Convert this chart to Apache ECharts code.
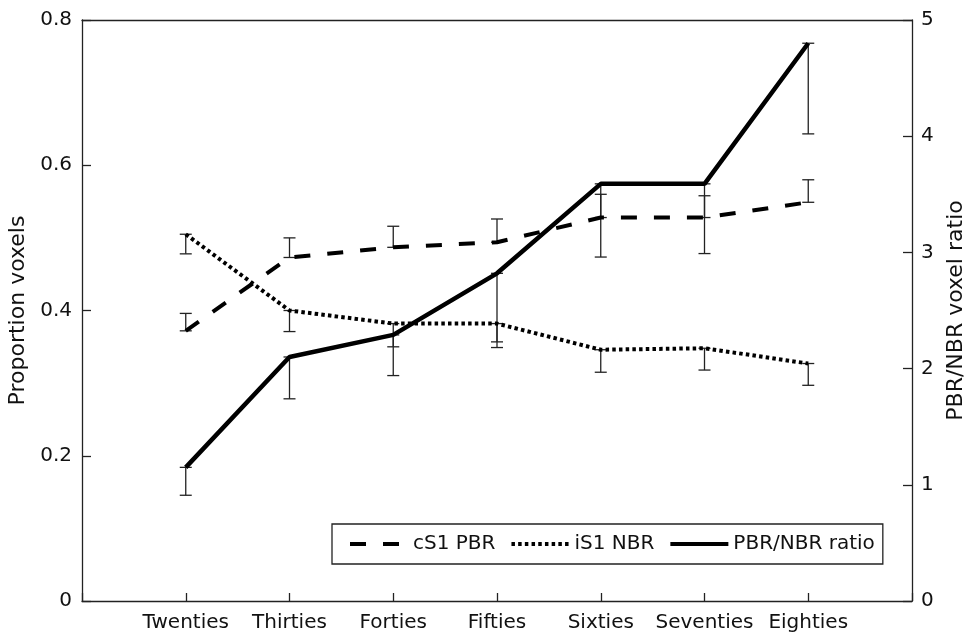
<!DOCTYPE html>
<html><head><meta charset="utf-8">
<script src="https://cdn.jsdelivr.net/npm/echarts@6/dist/echarts.min.js"></script>
<style>html,body{margin:0;padding:0;background:#fff}#chart{width:966px;height:636px}</style>
</head><body><div id="chart"></div>
<script>
// ---- data ----
const categories = ['Twenties', 'Thirties', 'Forties', 'Fifties', 'Sixties', 'Seventies', 'Eighties'];
const seriesNames = ['cS1 PBR', 'iS1 NBR', 'PBR/NBR ratio'];
// cS1 PBR (left axis), error bars upward
const pbrValues = [0.372, 0.473, 0.487, 0.494, 0.528, 0.528, 0.549];
const pbrUpper  = [0.396, 0.500, 0.516, 0.526, 0.560, 0.558, 0.580];
// iS1 NBR (left axis), error bars downward
const nbrValues = [0.505, 0.400, 0.382, 0.382, 0.346, 0.348, 0.327];
const nbrLower  = [0.478, 0.371, 0.350, 0.349, 0.315, 0.318, 0.297];
// PBR/NBR ratio (right axis), error bars downward
const ratioValues = [1.15, 2.10, 2.29, 2.82, 3.59, 3.59, 4.80];
const ratioLower  = [0.91, 1.74, 1.94, 2.23, 2.96, 2.99, 4.02];
// axis ranges
const leftAxisMax = 0.8, leftAxisStep = 0.2;
const rightAxisMax = 5, rightAxisStep = 1;

const FONT = 'DejaVu Sans';
const INK = '#111';
const AXIS = '#222';

function pts(vals) { return vals.map((v, i) => [i + 1, v]); }

function errorBars(yAxisIndex, a, b) {
  return {
    type: 'custom', xAxisIndex: 0, yAxisIndex: yAxisIndex, silent: true, z: 1,
    data: a.map((v, i) => [i + 1, v, b[i]]),
    encode: { x: 0, y: [1, 2] },
    renderItem: function (params, api) {
      const x = api.value(0);
      const p1 = api.coord([x, api.value(1)]);
      const p2 = api.coord([x, api.value(2)]);
      const hw = 6;
      const style = { stroke: AXIS, lineWidth: 1.3, fill: null };
      return { type: 'group', children: [
        { type: 'line', shape: { x1: p1[0], y1: p1[1], x2: p2[0], y2: p2[1] }, style: style },
        { type: 'line', shape: { x1: p1[0] - hw, y1: p1[1], x2: p1[0] + hw, y2: p1[1] }, style: style },
        { type: 'line', shape: { x1: p2[0] - hw, y1: p2[1], x2: p2[0] + hw, y2: p2[1] }, style: style }
      ] };
    }
  };
}

const chart = echarts.init(document.getElementById('chart'));
chart.setOption({
  animation: false,
  backgroundColor: '#fff',
  grid: { left: 82, right: 54, top: 20, bottom: 35, containLabel: false, outerBoundsMode: 'none' },
  legend: {
    data: seriesNames,
    left: 332, top: 524,
    orient: 'horizontal',
    borderColor: AXIS, borderWidth: 1.3,
    backgroundColor: '#fff',
    padding: [10, 8, 10, 16],
    itemWidth: 58, itemHeight: 14, itemGap: 14,
    itemStyle: { opacity: 0 },
    lineStyle: { width: 4 },
    textStyle: { fontSize: 20, fontFamily: FONT, color: INK }
  },
  xAxis: [{
    type: 'value', min: 0, max: categories.length + 1, interval: 1, position: 'bottom',
    axisLine: { show: true, onZero: false, lineStyle: { color: AXIS, width: 1.3 } },
    axisTick: { show: true, inside: true, length: 8, lineStyle: { color: AXIS, width: 1.3 } },
    axisLabel: { fontSize: 20, fontFamily: FONT, color: INK, margin: 12,
      formatter: v => categories[v - 1] || '' },
    splitLine: { show: false }
  }, {
    type: 'value', min: 0, max: categories.length + 1, position: 'top',
    axisLine: { show: true, onZero: false, lineStyle: { color: AXIS, width: 1.3 } },
    axisTick: { show: false }, axisLabel: { show: false }, splitLine: { show: false }
  }],
  yAxis: [{
    type: 'value', min: 0, max: leftAxisMax, interval: leftAxisStep, position: 'left',
    name: 'Proportion voxels', nameLocation: 'middle', nameGap: 48, nameRotate: 90,
    nameTextStyle: { fontSize: 22, fontFamily: FONT, color: INK },
    axisLine: { show: true, onZero: false, lineStyle: { color: AXIS, width: 1.3 } },
    axisTick: { show: true, inside: true, length: 9, lineStyle: { color: AXIS, width: 1.3 } },
    axisLabel: { fontSize: 20, fontFamily: FONT, color: INK, margin: 10,
      formatter: v => (v === 0 ? '0' : v.toFixed(1)) },
    splitLine: { show: false }
  }, {
    type: 'value', min: 0, max: rightAxisMax, interval: rightAxisStep, position: 'right',
    name: 'PBR/NBR voxel ratio', nameLocation: 'middle', nameGap: 33, nameRotate: 90,
    nameTextStyle: { fontSize: 22, fontFamily: FONT, color: INK },
    axisLine: { show: true, onZero: false, lineStyle: { color: AXIS, width: 1.3 } },
    axisTick: { show: true, inside: true, length: 9, lineStyle: { color: AXIS, width: 1.3 } },
    axisLabel: { fontSize: 20, fontFamily: FONT, color: INK, margin: 9 },
    splitLine: { show: false }
  }],
  series: [
    errorBars(0, pbrValues, pbrUpper),
    errorBars(0, nbrValues, nbrLower),
    errorBars(1, ratioValues, ratioLower),
    { name: seriesNames[0], type: 'line', xAxisIndex: 0, yAxisIndex: 0, data: pts(pbrValues),
      symbol: 'none', z: 3, itemStyle: { color: '#000' },
      lineStyle: { color: '#000', width: 4, type: [16, 17] } },
    { name: seriesNames[1], type: 'line', xAxisIndex: 0, yAxisIndex: 0, data: pts(nbrValues),
      symbol: 'none', z: 3, itemStyle: { color: '#000' },
      lineStyle: { color: '#000', width: 4, type: [3.5, 3.2] } },
    { name: seriesNames[2], type: 'line', xAxisIndex: 0, yAxisIndex: 1, data: pts(ratioValues),
      symbol: 'none', z: 3, itemStyle: { color: '#000' },
      lineStyle: { color: '#000', width: 4.5 } }
  ]
});
</script></body></html>
